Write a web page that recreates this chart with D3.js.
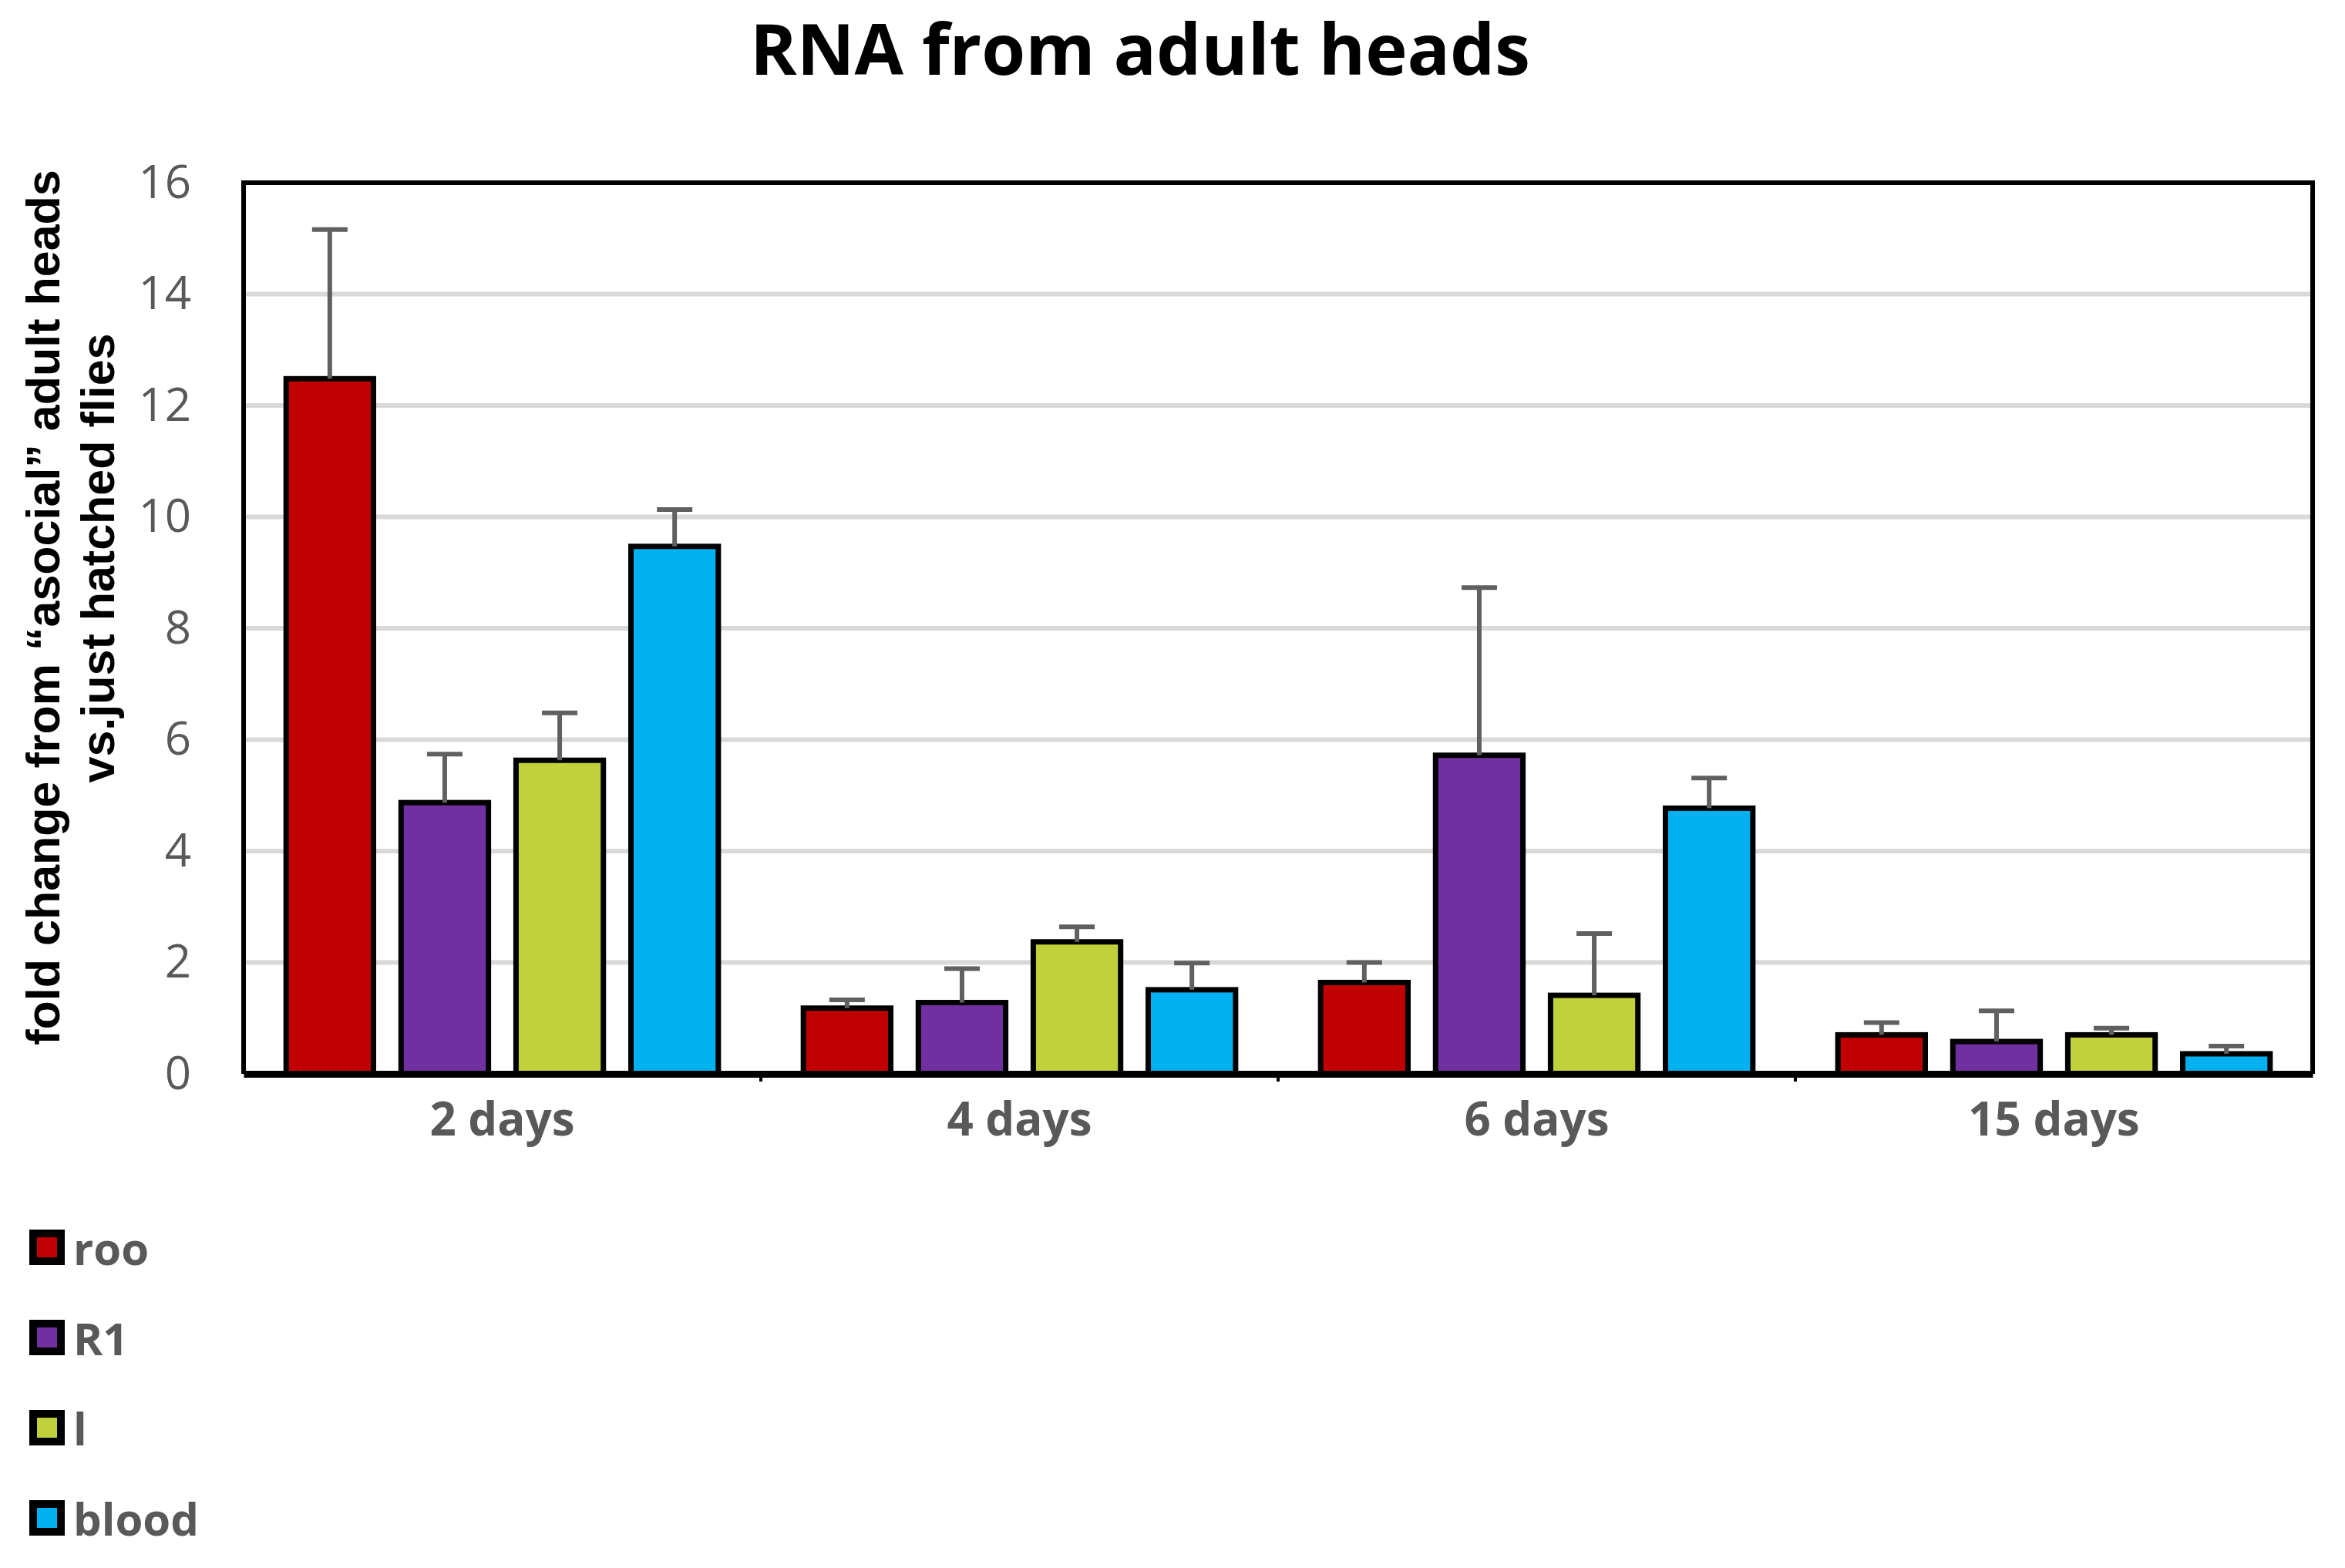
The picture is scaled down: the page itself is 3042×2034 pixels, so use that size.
<!DOCTYPE html>
<html>
<head>
<meta charset="utf-8">
<script src="https://cdn.jsdelivr.net/npm/d3@7"></script>
<style>
  html, body { margin: 0; padding: 0; background: #fff; }
  svg { display: block; }
</style>
</head>
<body>
<div id="chart"></div>
<script>
// 数据
const categories = ['2 days', '4 days', '6 days', '15 days'];
const seriesNames = ['roo', 'R1', 'l', 'blood'];
const seriesColors = ['#c00000', '#7030a0', '#bfd13b', '#00b0f0'];
const rooMean = [12.48, 1.18, 1.64, 0.70];
const r1Mean = [4.87, 1.28, 5.72, 0.58];
const lMean = [5.63, 2.37, 1.41, 0.70];
const bloodMean = [9.47, 1.51, 4.77, 0.36];
const rooErr = [2.68, 0.15, 0.36, 0.22];
const r1Err = [0.87, 0.61, 3.01, 0.55];
const lErr = [0.85, 0.27, 1.11, 0.12];
const bloodErr = [0.66, 0.48, 0.54, 0.14];
const yTicks = [0, 2, 4, 6, 8, 10, 12, 14, 16];

const means = [rooMean, r1Mean, lMean, bloodMean];
const errs = [rooErr, r1Err, lErr, bloodErr];

const W = 3042, H = 2034;
const plot = { left: 316, right: 3000, top: 237, bottom: 1393 };
const gray = '#595959';
const openSans = '"Open Sans", "Liberation Sans", sans-serif';

// 拼成一张表, 每个柱子一行
const rows = [];
categories.forEach((c, ci) => {
  seriesNames.forEach((s, si) => {
    rows.push({ cat: c, series: s, color: seriesColors[si], value: means[si][ci], err: errs[si][ci] });
  });
});

const svg = d3.select('#chart').append('svg')
  .attr('width', W)
  .attr('height', H);

const x0 = d3.scaleBand().domain(categories).range([plot.left, plot.right]);
const x1 = d3.scaleBand().domain(seriesNames)
  .range([0, x0.bandwidth()])
  .paddingInner(0.24)
  .paddingOuter(0.37);
const y = d3.scaleLinear().domain([0, 16]).range([plot.bottom, plot.top]);
const cx = d => x0(d.cat) + x1(d.series) + x1.bandwidth() / 2;

// 网格线
svg.append('g')
  .selectAll('line')
  .data(yTicks.filter(d => d > 0 && d < 16))
  .join('line')
  .attr('x1', plot.left)
  .attr('x2', plot.right)
  .attr('y1', d => y(d))
  .attr('y2', d => y(d))
  .attr('stroke', '#d9d9d9')
  .attr('stroke-width', 6);

// 外框 (上, 左, 右)
svg.append('path')
  .attr('d', `M${plot.left},${plot.bottom}V${plot.top}H${plot.right}V${plot.bottom}`)
  .attr('fill', 'none')
  .attr('stroke', '#000')
  .attr('stroke-width', 6);

// y 轴刻度文字
const yAxis = svg.append('g')
  .attr('transform', `translate(${plot.left},0)`)
  .call(d3.axisLeft(y).tickValues(yTicks).tickSize(0).tickPadding(68));
yAxis.select('.domain').remove();
yAxis.selectAll('text')
  .attr('fill', gray)
  .style('font-family', openSans)
  .style('font-size', '60px');

// 柱子
svg.append('g')
  .selectAll('rect')
  .data(rows)
  .join('rect')
  .attr('x', d => x0(d.cat) + x1(d.series))
  .attr('y', d => y(d.value))
  .attr('width', x1.bandwidth())
  .attr('height', d => y(0) - y(d.value))
  .attr('fill', d => d.color)
  .attr('stroke', '#000')
  .attr('stroke-width', 7);

// 误差线
const eg = svg.append('g')
  .attr('stroke', '#606060')
  .attr('stroke-width', 6);
eg.selectAll('line.v')
  .data(rows)
  .join('line')
  .attr('class', 'v')
  .attr('x1', cx)
  .attr('x2', cx)
  .attr('y1', d => y(d.value))
  .attr('y2', d => y(d.value + d.err));
eg.selectAll('line.cap')
  .data(rows)
  .join('line')
  .attr('class', 'cap')
  .attr('x1', d => cx(d) - 23)
  .attr('x2', d => cx(d) + 23)
  .attr('y1', d => y(d.value + d.err))
  .attr('y2', d => y(d.value + d.err));

// x 轴
const xAxis = svg.append('g')
  .attr('transform', `translate(0,${plot.bottom})`)
  .call(d3.axisBottom(x0).tickSize(0));
xAxis.select('.domain')
  .attr('stroke', '#000')
  .attr('stroke-width', 9);
xAxis.selectAll('text')
  .attr('y', 80)
  .attr('dy', 0)
  .attr('fill', gray)
  .style('font-family', openSans)
  .style('font-size', '60px')
  .style('font-weight', 'bold');

// 类别分隔的小刻度
svg.append('g')
  .selectAll('line')
  .data(categories.slice(1))
  .join('line')
  .attr('x1', d => x0(d))
  .attr('x2', d => x0(d))
  .attr('y1', plot.bottom)
  .attr('y2', plot.bottom + 10)
  .attr('stroke', '#000')
  .attr('stroke-width', 4);

// 标题
svg.append('text')
  .attr('x', 1479)
  .attr('y', 97)
  .attr('text-anchor', 'middle')
  .style('font-family', openSans)
  .style('font-size', '92px')
  .style('font-weight', 'bold')
  .attr('fill', '#000')
  .text('RNA from adult heads');

// y 轴标题 (两行)
const yTitle = [
  { text: 'fold change from \u201casocial\u201d adult heads', x: 77, y: 788 },
  { text: 'vs.just hatched flies', x: 148, y: 724 }
];
svg.append('g')
  .selectAll('text')
  .data(yTitle)
  .join('text')
  .attr('transform', d => `translate(${d.x},${d.y}) rotate(-90)`)
  .attr('text-anchor', 'middle')
  .style('font-family', '"Liberation Sans", Arial, sans-serif')
  .style('font-size', '61px')
  .style('font-weight', 'bold')
  .attr('fill', '#000')
  .text(d => d.text);

// 图例
const legend = svg.append('g')
  .selectAll('g')
  .data(seriesNames)
  .join('g')
  .attr('transform', (d, i) => `translate(0,${1641 + i * 117})`);
legend.append('rect')
  .attr('x', 43)
  .attr('y', -41)
  .attr('width', 36)
  .attr('height', 36)
  .attr('fill', (d, i) => seriesColors[i])
  .attr('stroke', '#000')
  .attr('stroke-width', 10);
legend.append('text')
  .attr('x', 95)
  .attr('y', 0)
  .attr('fill', gray)
  .style('font-family', openSans)
  .style('font-size', '58px')
  .style('font-weight', 'bold')
  .text(d => d);
</script>
</body>
</html>
